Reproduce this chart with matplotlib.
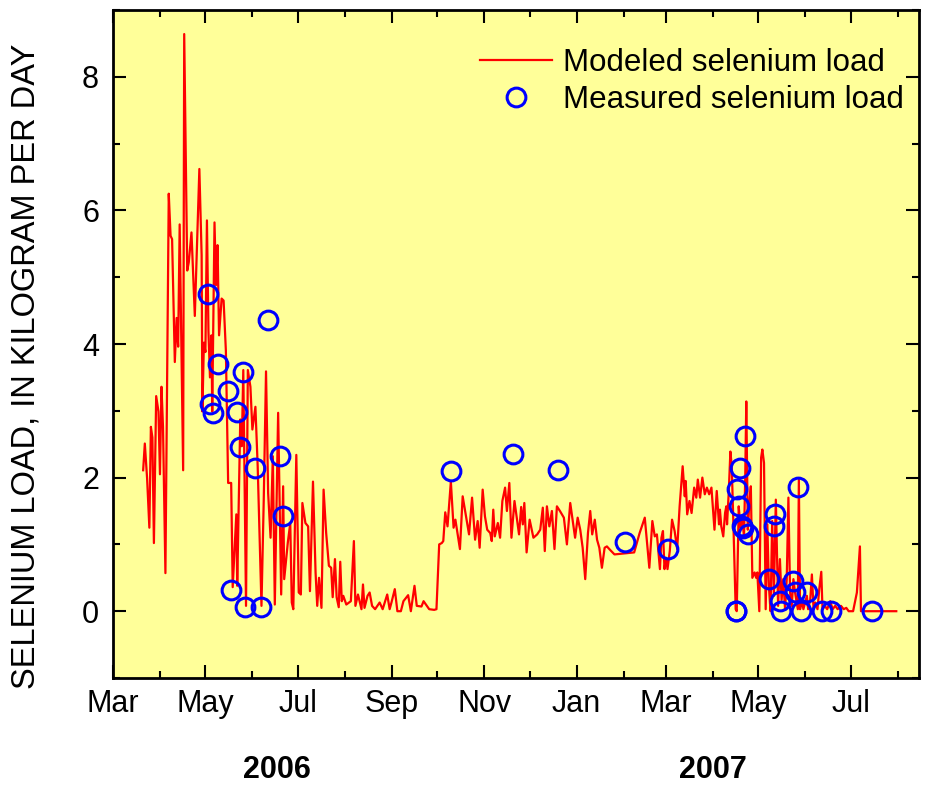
import matplotlib
matplotlib.use("Agg")
import matplotlib.pyplot as plt
import matplotlib.dates as mdates
from matplotlib.ticker import MultipleLocator
import numpy as np
import pandas as pd

plt.rcParams['font.family'] = ['Liberation Sans', 'DejaVu Sans']

# modeled daily load: days since START and kg/day
START = "2006-03-01"
model_day = [
    19.9, 21, 22.5, 24, 25, 26, 27, 28.5, 30, 31, 32, 33, 34.6, 36.8, 38, 39, 40.8, 42, 43, 44,
    46.3, 47, 49, 50, 51.8, 54, 57, 58.5, 59, 60, 61, 62, 63, 64, 65, 65.5, 67, 68, 69, 70,
    71.7, 73, 74.5, 76, 78, 79, 81.4, 82, 84, 85, 86, 87.8, 89, 90.7, 92, 94, 95.5, 98, 99.5, 101,
    102.4, 104, 105.5, 106.8, 109, 111, 112.3, 113, 115.4, 117, 118, 119, 121, 122.6, 124, 125, 127, 128.8, 130, 132,
    133.7, 134.8, 136, 137.6, 139, 140.7, 142.5, 144, 145, 146.5, 147.6, 149, 150, 151, 152, 154, 157, 159, 160, 161.7,
    164, 165, 166, 168, 169.4, 171, 173, 176, 178, 181, 182.6, 183.8, 186, 187.7, 190, 191.7, 194.8, 196.6, 199, 200.5,
    203.6, 205, 208.7, 212, 213.5, 215.3, 217, 218, 219.3, 220.8, 223, 224.8, 226, 229, 230.8, 233, 235, 237, 239, 240.7,
    242, 244, 245.5, 247, 249, 250, 251, 252, 254, 255.5, 257, 258.8, 260, 261.6, 263, 265, 266.5, 268, 269.4, 270.5,
    271.5, 273, 275, 277.5, 280, 282, 283.7, 285, 286.4, 288, 289.7, 291.4, 293, 295, 297.6, 299.6, 301.8, 303.5, 305, 306.7,
    308.4, 310, 311.7, 313.5, 315, 316.3, 318, 319.5, 321, 322.7, 324.5, 326, 328, 331, 344, 347.6, 351, 354, 356, 357.6,
    359, 361, 362, 363, 364, 365, 366, 367.5, 369, 370.7, 372.4, 374, 376, 377.4, 378, 379, 380.5, 381.9, 383.6, 385,
    386, 387.5, 389, 390.6, 392, 393.5, 395, 397, 398.5, 400, 400.6, 401.5, 402.8, 404, 404.8, 405.3, 406.4, 407.5, 408.4, 409.5,
    411, 411.7, 413, 414.2, 415.4, 416.5, 417.3, 418, 419, 420, 421, 421.6, 422, 423.5, 424.5, 425.3, 426.6, 427.8, 428.6, 429.7,
    430.8, 431.9, 432.9, 434, 435.1, 436.2, 437.5, 438.4, 439, 440.2, 441.3, 442.4, 443.6, 444.7, 445.8, 446.9, 448, 449.1, 450.2, 452,
    452.7, 453.5, 454.6, 455.7, 458, 458.8, 460.2, 461.3, 462.4, 463.5, 465, 466.2, 467.5, 468.3, 469.8, 471.4, 473.4, 475, 476.7, 478.3,
    480.5, 482.3, 484, 485.6, 488.5, 491, 493, 493.7, 500, 517,
]
model_load = [
    2.11, 2.51, 1.99, 1.25, 2.76, 2.6, 1.02, 3.22, 2.99, 2.05, 3.36, 2.76, 0.57, 6.25, 5.62, 5.57, 3.73, 4.39, 3.96, 5.79,
    2.11, 8.64, 5.1, 5.22, 5.67, 4.42, 6.62, 5.33, 2.99, 4.02, 3.88, 5.85, 4.19, 3.5, 4.13, 2.99, 5.82, 4.88, 5.48, 4.13,
    4.68, 4.65, 3.9, 1.92, 1.92, 0.36, 1.45, 0.38, 2.87, 2.47, 3.61, 0.08, 3.61, 3.36, 2.72, 3.06, 2.17, 0.08, 1.67, 3.59,
    1.77, 1.1, 2.32, 0.1, 2.97, 0.25, 1.87, 0.48, 1.03, 1.32, 0.13, 0.03, 2.34, 0.28, 0.25, 1.62, 1.32, 1.27, 0.3, 1.94,
    0.58, 0.08, 0.5, 0.05, 1.82, 1.17, 0.68, 0.65, 0.21, 0.78, 0.21, 0.06, 0.74, 0.15, 0.23, 0.1, 0.15, 1.05, 0.08, 0.25,
    0.03, 0.4, 0.05, 0.23, 0.28, 0.08, 0.03, 0.13, 0.03, 0.25, 0.03, 0.13, 0.33, 0.0, 0.0, 0.15, 0.24, 0.0, 0.38, 0.08,
    0.07, 0.15, 0.03, 0.02, 0.03, 1.0, 1.02, 1.05, 1.48, 1.27, 1.94, 1.25, 1.37, 0.93, 1.72, 1.42, 1.15, 1.7, 1.07, 1.35,
    0.95, 1.82, 1.42, 1.22, 1.17, 1.05, 1.52, 1.12, 1.32, 1.1, 1.65, 1.85, 1.5, 1.92, 1.1, 1.65, 1.4, 1.15, 1.56, 1.3,
    1.62, 0.88, 1.37, 1.1, 1.15, 1.22, 1.55, 0.9, 1.57, 1.27, 1.5, 0.93, 1.57, 1.5, 1.4, 1.0, 1.62, 1.35, 1.1, 1.4,
    1.22, 0.95, 0.48, 1.17, 1.5, 1.15, 1.37, 1.07, 0.95, 0.65, 0.95, 0.97, 0.92, 0.85, 0.88, 1.17, 1.4, 0.65, 1.35, 1.12,
    1.15, 0.63, 1.1, 1.2, 0.63, 0.8, 0.63, 0.9, 1.37, 1.2, 0.93, 1.57, 2.17, 1.72, 1.95, 1.45, 1.65, 1.47, 1.85, 1.7,
    1.97, 1.7, 2.0, 1.75, 1.85, 1.75, 1.85, 1.22, 1.8, 1.3, 1.52, 1.27, 1.12, 1.47, 1.57, 1.3, 1.77, 2.39, 2.17, 1.3,
    0.03, 0.0, 1.57, 1.25, 1.37, 1.12, 2.0, 3.14, 1.22, 1.6, 1.87, 1.1, 0.5, 0.58, 0.5, 0.58, 0.0, 2.3, 2.42, 2.22,
    0.03, 1.3, 0.38, 0.0, 1.35, 0.23, 1.67, 0.7, 0.08, 0.78, 0.17, 0.48, 0.03, 0.48, 1.7, 0.28, 0.08, 0.48, 0.28, 0.03,
    1.97, 0.03, 0.17, 0.03, 0.23, 0.03, 0.17, 0.55, 0.03, 0.13, 0.03, 0.34, 0.59, 0.03, 0.08, 0.03, 0.15, 0.03, 0.08, 0.03,
    0.08, 0.03, 0.05, 0.0, 0.0, 0.28, 0.97, 0.0, 0.0, 0.0,
]

# measured samples
meas_date = [
    "2006-05-03", "2006-05-04", "2006-05-06", "2006-05-09", "2006-05-16", "2006-05-18", "2006-05-22",
    "2006-05-24", "2006-05-26", "2006-05-27", "2006-06-03", "2006-06-07", "2006-06-11", "2006-06-19",
    "2006-06-21", "2006-10-10", "2006-11-20", "2006-12-20", "2007-02-02", "2007-03-02",
    "2007-04-16", "2007-04-16", "2007-04-17", "2007-04-18", "2007-04-19", "2007-04-20", "2007-04-21",
    "2007-04-22", "2007-04-24", "2007-05-08", "2007-05-11", "2007-05-12", "2007-05-15", "2007-05-16",
    "2007-05-24", "2007-05-25", "2007-05-27", "2007-05-29", "2007-06-02", "2007-06-12", "2007-06-18",
    "2007-07-15",
]
meas_load = [
    4.75, 3.10, 2.97, 3.70, 3.30, 0.31, 2.98,
    2.46, 3.58, 0.07, 2.15, 0.07, 4.36, 2.33,
    1.42, 2.10, 2.36, 2.12, 1.03, 0.93,
    0.0, 0.0, 1.83, 1.57, 2.14, 1.27, 1.25,
    2.63, 1.15, 0.48, 1.28, 1.45, 0.16, 0.0,
    0.45, 0.29, 1.86, 0.0, 0.28, 0.0, 0.0,
    0.0,
]

start = pd.Timestamp(START)
model_x = start + pd.to_timedelta(np.array(model_day), unit="D")
meas_x = pd.to_datetime(meas_date)

fig = plt.figure(figsize=(9.3, 7.88), dpi=100)
ax = fig.add_axes([113 / 930, 1 - 678 / 788, 806 / 930, 668 / 788])
ax.set_facecolor("#FFFF99")

ax.plot(model_x, model_load, color="#FF0000", lw=1.6, label="Modeled selenium load", zorder=2)
ax.plot(meas_x, meas_load, "o", mfc="none", mec="#0000FF", mew=2.2, ms=13.5,
        label="Measured selenium load", zorder=3)

ax.set_xlim(pd.Timestamp("2006-03-01"), pd.Timestamp("2007-08-15"))
ax.set_ylim(-1, 9)

ax.xaxis.set_major_locator(mdates.MonthLocator(bymonth=[1, 3, 5, 7, 9, 11]))
ax.xaxis.set_major_formatter(mdates.DateFormatter("%b"))
ax.xaxis.set_minor_locator(mdates.MonthLocator(bymonth=[2, 4, 6, 8, 10, 12]))
ax.yaxis.set_major_locator(MultipleLocator(2))
ax.yaxis.set_minor_locator(MultipleLocator(1))

ax.tick_params(which="both", direction="in", top=True, right=True, width=1.5, labelsize=22)
ax.tick_params(which="major", length=9.5)
ax.tick_params(which="minor", length=5)
ax.tick_params(axis="y", pad=10)
ax.tick_params(axis="x", pad=8)
for s in ax.spines.values():
    s.set_linewidth(2)

ax.set_ylabel("SELENIUM LOAD, IN KILOGRAM PER DAY", fontsize=23.5)
ax.yaxis.set_label_coords(-0.089, 0.467)

fig.text(277 / 930, 1 - 770 / 788, "2006", fontsize=22, fontweight="bold", ha="center", va="center")
fig.text(713 / 930, 1 - 770 / 788, "2007", fontsize=22, fontweight="bold", ha="center", va="center")

ax.legend(loc="upper left", bbox_to_anchor=((480 - 113) / 806, (678 - 48) / 668),
          frameon=False, fontsize=22.5, handlelength=2.3, handletextpad=0.35,
          labelspacing=0.22, borderpad=0, borderaxespad=0)

fig.savefig("out.png", dpi=100)
